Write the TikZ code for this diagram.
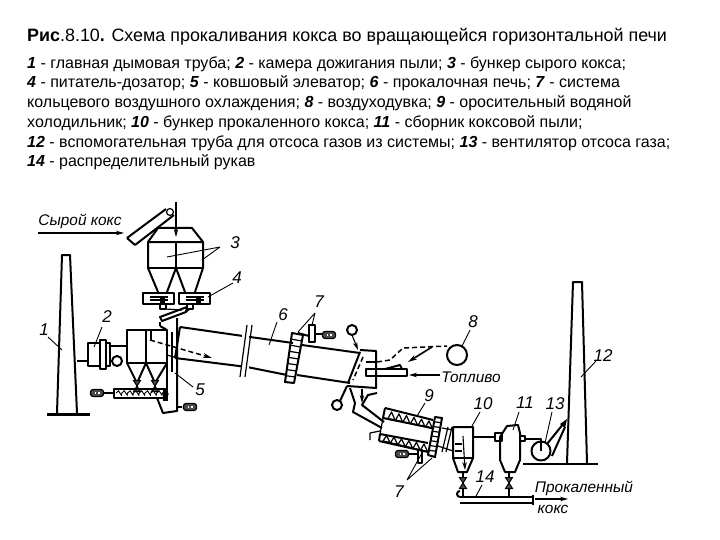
\documentclass[tikz,border=0pt]{standalone}
\usepackage{fontspec}
\setmainfont{Liberation Sans}
\usetikzlibrary{arrows.meta}
\newcommand{\motorsym}[2]{\draw[line width=1.2pt,fill=black!70,rounded corners=2.5pt] (#1-6.5,#2-3.5) rectangle (#1+6.5,#2+3.5); \fill[white] (#1-2.5,#2-1.2) rectangle (#1-0.8,#2+1.2); \fill[white] (#1+1,#2-1.2) rectangle (#1+2.7,#2+1.2);}
\newcommand{\valvesym}[2]{\draw[line width=1pt,fill=black!70] (#1-3.5,#2-5.5) -- (#1+3.5,#2-5.5) -- (#1-3.5,#2+5.5) -- (#1+3.5,#2+5.5) -- cycle;}
\tikzset{
 x=1pt,y=-1pt,
 ln/.style={line width=1.2pt,line join=round},
 thk/.style={line width=2pt,line join=round},
 thn/.style={line width=0.9pt},
 arr/.style={line width=1.1pt,-{Stealth[length=8pt,width=4.5pt]}},
 dsh/.style={line width=1.5pt,dash pattern=on 5pt off 3pt},
 captxt/.style={anchor=base west,inner sep=0pt,font=\fontsize{16}{17}\selectfont},
 lab/.style={inner sep=0pt,font=\fontsize{17}{18}\selectfont\itshape},
 sch/.style={inner sep=0pt,font=\fontsize{15.4}{16}\selectfont\itshape}
}
\begin{document}
\begin{tikzpicture}
\useasboundingbox (0,0) rectangle (720,540);
\fill[white] (0,0) rectangle (720,540);
% caption
\node[anchor=base west,inner sep=0pt,font=\fontsize{17.9}{18}\selectfont] (title) at (27,42) {\textbf{Рис}.8.10\textbf{.} Схема прокаливания кокса во вращающейся горизонтальной печи};
\node[captxt] (c1) at (27,69) {\textbf{\textit{1}} - главная дымовая труба; \textbf{\textit{2}} - камера дожигания пыли; \textbf{\textit{3}} - бункер сырого кокса;};
\node[captxt] (c2) at (27,88) {\textbf{\textit{4}} - питатель-дозатор; \textbf{\textit{5}} - ковшовый элеватор; \textbf{\textit{6}} - прокалочная печь; \textbf{\textit{7}} - система};
\node[captxt] (c3) at (27,108) {кольцевого воздушного охлаждения; \textbf{\textit{8}} - воздуходувка; \textbf{\textit{9}} - оросительный водяной};
\node[captxt] (c4) at (27,127.5) {холодильник; \textbf{\textit{10}} - бункер прокаленного кокса; \textbf{\textit{11}} - сборник коксовой пыли;};
\node[captxt] (c5) at (27,148) {\textbf{\textit{12}} - вспомогательная труба для отсоса газов из системы; \textbf{\textit{13}} - вентилятор отсоса газа;};
\node[captxt] (c6) at (27,167) {\textbf{\textit{14}} - распределительный рукав};

% raw coke
\node[sch] (raw) at (80,221) {Сырой кокс};
\coordinate (rawA) at (38,233); \coordinate (rawB) at (124,233);
\draw[arr] (rawA) -- (rawB);
% conveyor
\draw[thk] (127,238) -- (166,209) (135,245) -- (174,215) (127,238) -- (135,245);
\draw[ln] (170,212) circle (3.5);
\draw[arr] (176,202) -- (176,237);
% bunker 3
\draw[thk] (148,242) -- (158,228) -- (192,228) -- (203,242) -- cycle;
\draw[thk] (148,242) -- (148,268) -- (158,292) (203,242) -- (203,268) -- (195,292);
\draw[ln] (176,242) -- (176,268);
\draw[thk] (148,268) -- (203,268);
\draw[thk] (158,292) (167,292) -- (176,268) -- (185,292);
% feeders 4
\draw[thk] (143,293) rectangle (174,304);
\draw[thk] (179,293) rectangle (210,304);
\draw[ln] (150,297) -- (168,297) (150,300) -- (168,300);
\draw[ln] (186,297) -- (204,297) (186,300) -- (204,300);
\fill (160,297) rectangle (165,303); \fill (196,297) rectangle (201,303);
\draw[ln] (160,304) rectangle (166,309); \draw[ln] (187,304) rectangle (193,309);
\draw[ln] (165,309) -- (182,310) (190,309) -- (186,312);
% chute to elevator
\draw[thk] (160,317) -- (187,307) -- (186,312) -- (162,321) -- cycle;
\draw[thk] (160,322) -- (160,326);
% chimney 1
\draw[thk] (57,413) -- (62,255) -- (70,255) -- (77,413);
\draw[line width=2.4pt] (47,414.5) -- (90,414.5);
\draw[thk] (77,361) -- (88,361);
% chamber 2
\draw[thk] (88,343) rectangle (100,366);
\draw[thk] (100,340) rectangle (106,369);
\draw[ln] (106,343) rectangle (110,366);
\draw[thk] (110,346) -- (127,346);
\draw[thk] (117,361) circle (5);
% bunkers under
\draw[thk] (127,330) rectangle (167,363);
\draw[ln] (146,330) -- (146,363);
\draw[thk] (127,363) -- (137,383) -- (146,363) -- (155,383) -- (167,363);
\valvesym{137}{386}
\valvesym{155}{386}
% screw conveyor
\draw[thk] (114,389) rectangle (167,398);
\draw[line width=0.9pt] (116,393) \foreach \i in {0,...,8} { -- ++(2.5,-2.2) -- ++(2.9,4.4) -- ++(0.4,-2.2)};
\fill (163,388) rectangle (168,401);
\draw[thk] (103,393) -- (114,393);
\motorsym{97}{393}
% elevator 5
\draw[thk] (177,318) -- (177,411) -- (163,413) -- (157,398);
\draw[thk] (167,330) -- (167,398);
\draw[thk] (160,326) -- (167,330);
\draw[ln] (177,407) -- (182,407);
\motorsym{190}{407}
\draw[ln] (172,332) -- (172,372);
% kiln
\draw[thk] (180,327) -- (250,337) -- (293,343) (302,345) -- (360,353);
\draw[thk] (175,358) -- (247,367) -- (287,375) (297,375) -- (350,383);
\draw[thk] (180,327) -- (175,358);
\draw[ln] (177,358) -- (167,355);
\fill[white] (242,333) rectangle (249,375);
\draw[ln] (247,325) -- (240,377) (252,325) -- (245,377);
\draw[dsh,-{Stealth[length=9pt,width=5pt]}] (150,340) -- (212,358);
\draw[ln] (151,330) -- (151,340);
% ring gear
\draw[thk] (292,333) -- (303,335) -- (294,383) -- (285,382) -- cycle;
\foreach \k in {1,...,7} { \draw[ln] ({292-\k*0.875},{333+\k*6.1}) -- ({303-\k*1.1},{335+\k*6}); }
% fan on ring
\draw[thk] (309,325) rectangle (315,342);
\draw[ln] (315,334) -- (322,334);
\motorsym{329}{335}
\draw[thk] (298,333) -- (309,336);
% head
\draw[thk] (360,350) -- (376,351) -- (376,388) -- (347,386);
\draw[thk] (360,352) -- (348,383);
\draw[dsh] (363,357) -- (353,380);
\draw[thk] (352,330) circle (5);
\draw[arr] (352,335) -- (358,350);
\draw[thk] (337,405) circle (5);
\draw[thk] (340,401) -- (347,386);
\draw[ln] (366,362) -- (376,362);
% burner
\draw[thk] (366,369) rectangle (407,376);
\draw[thk] (385,369) -- (400,365) -- (402,369);
\draw[arr] (440,375) -- (409,375);
\node[sch] (fuel) at (471,377) {Топливо};
% blower 8
\draw[dsh] (377,362) -- (390,360) -- (403,348) -- (447,346);
\draw[line width=1.6pt,-{Stealth[length=9pt,width=5pt]}] (432,347) -- (408,362);
\draw[thk] (457,355) circle (10);
% discharge chute
\draw[thk] (350,388) -- (355,403) -- (353,412) -- (382,428);
\draw[thk] (377,393) -- (368,395) -- (362,405) -- (384,422);
\draw[arr] (362,389) -- (362,403);
% cooler 9
\draw[thk] (385,408) -- (433,420) (383,418) -- (432,428) (385,408) -- (383,418);
\draw[thk] (380,434) -- (428,443) (379,441) -- (428,452) (380,434) -- (379,441);
\draw[ln] (383,418) -- (380,434);
\foreach \t in {0,...,5} {
 \draw[ln] ({388+\t*7.5},{418.5+\t*1.7}) -- ({391.5+\t*7.5},{412+\t*1.8}) -- ({395+\t*7.5},{420+\t*1.7}) -- cycle;
 \draw[ln] ({383+\t*7.5},{441+\t*1.8}) -- ({386.5+\t*7.5},{435.5+\t*1.7}) -- ({390+\t*7.5},{442.5+\t*1.8}) -- cycle;
}
\draw[ln] (370,433) -- (380,431) (370,433) -- (370,440);
\draw[thk] (435,417) -- (442,418) -- (435,457) -- (428,455) -- cycle;
\foreach \k in {1,...,7} { \draw[ln] ({435-\k*0.875},{417+\k*4.75}) -- ({442-\k*0.875},{418+\k*4.75}); }
\draw[ln] (448,427) -- (442,452) (452,427) -- (446,452);
\draw[ln] (442,428) -- (453,430) (438,446) -- (453,451);
\draw[thk] (418,450) rectangle (422,463);
\draw[ln] (408,454) -- (418,454);
\motorsym{402}{454}
% bunker 10
\draw[thk] (453,427) -- (473,427) -- (473,458) -- (467,472) -- (458,472) -- (453,458) -- cycle;
\draw[ln] (453,458) -- (473,458);
\draw[arr] (463,436) -- (465,470);
\draw[thk] (455,444) -- (462,444) (455,451) -- (462,451);
\draw[ln] (463,472) -- (463,496);
\valvesym{463}{483}
\draw[line width=2.4pt] (473,437) -- (495,437);
% bunker 11
\draw[thk] (507,426) -- (518,425) -- (520,433) -- (520,460) -- (515,472) -- (505,472) -- (500,460) -- (500,437) -- cycle;
\draw[thk] (495,433) rectangle (502,441);
\draw[ln] (520,436) rectangle (525,441);
\draw[ln] (509,472) -- (509,496);
\valvesym{509}{483}
% distribution pipe 14
\draw[thk] (460,497) -- (532,497) (460,503) -- (532,503);
\draw[thk] (460,497) arc[start angle=90,end angle=270,radius=3];
\draw[ln] (533,495) -- (533,505);
\draw[arr] (535,499) -- (568,499);
\node[sch] (prod) at (584,488) {Прокаленный};
\node[sch] (koks) at (553,509) {кокс};
% fan 13 and chimney 12
\draw[ln] (525,439) -- (541,439) -- (541,451);
\draw[thk] (541,451) circle (9.5);
\draw[thk] (547,444) -- (564,423) (552,456) -- (565,427);
\fill (567,419) -- (560,424) -- (565,428) -- cycle;
\draw[thk] (567,463) -- (573,282) -- (582,282) -- (587,463);
\draw[line width=2.4pt] (523,464) -- (598,464);
% labels and leaders
\node[lab] (n1) at (44,330) {1};
\draw[thn] (48,337) -- (62,350);
\node[lab] (n2) at (107,317) {2};
\draw[thn] (102,327) -- (94,347);
\node[lab] (n3) at (235,243) {3};
\draw[thn] (220,247) -- (167,257) (220,247) -- (202,260);
\node[lab] (n4) at (237,278) {4};
\draw[thn] (233,283) -- (208,297);
\node[lab] (n5) at (200,390) {5};
\draw[thn] (193,387) -- (175,373);
\node[lab] (n6) at (283,315) {6};
\draw[thn] (277,322) -- (269,345);
\node[lab] (n7a) at (319,302) {7};
\draw[thn] (315,313) -- (298,332) (315,313) -- (312,325);
\node[lab] (n8) at (473,322) {8};
\draw[thn] (470,330) -- (462,346);
\node[lab] (n9) at (429,396) {9};
\draw[thn] (425,403) -- (417,416);
\node[lab] (n10) at (483,404) {10};
\draw[thn] (480,412) -- (472,426);
\node[lab] (n11) at (525,403) {11};
\draw[thn] (519,412) -- (513,430);
\node[lab] (n12) at (603,356) {12};
\draw[thn] (596,361) -- (581,377);
\node[lab] (n13) at (555,404) {13};
\draw[thn] (552,412) -- (545,443);
\node[lab] (n14) at (485,477) {14};
\draw[thn] (482,485) -- (475,498);
\node[lab] (n7b) at (399,492) {7};
\draw[thn] (407,480) -- (422,453) (407,480) -- (432,458);
\end{tikzpicture}
\end{document}
